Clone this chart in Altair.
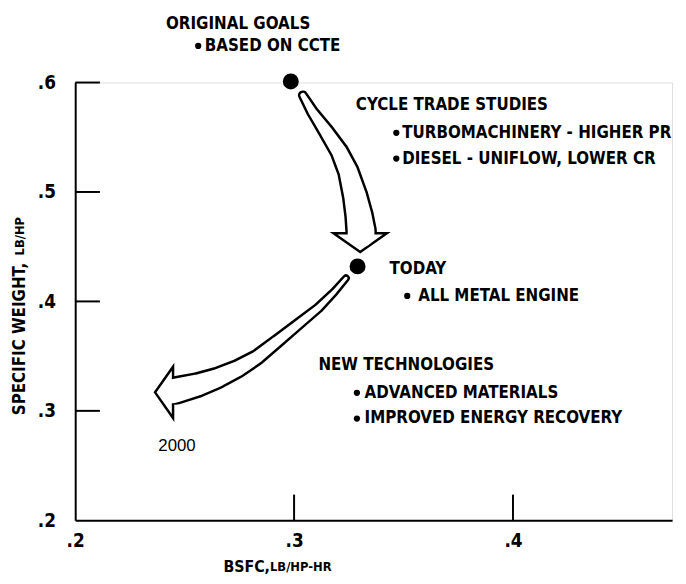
import altair as alt
import pandas as pd

F = "Liberation Sans Narrow, DejaVu Sans Condensed, sans-serif"

# ---- data ----
x_ticks = [0.2, 0.3, 0.4]
y_ticks = [0.2, 0.3, 0.4, 0.5, 0.6]

dot_names = ["ORIGINAL GOALS", "TODAY"]
dot_x = [0.2985, 0.3290]
dot_y = [0.6010, 0.4320]

# arrow 1 (goals -> today), centreline and outer width
a1_x = [0.3040, 0.3085, 0.3148, 0.3207, 0.3248, 0.3279, 0.3297, 0.3306]
a1_y = [0.5883, 0.5729, 0.5549, 0.5368, 0.5187, 0.4962, 0.4781, 0.4646]
a1_w = [10, 13, 17, 20, 23, 27, 30, 32]
a1_base = (0.3306, 0.4618, 32)
a1_head = (0.3302, 0.4537)

# arrow 2 (today -> 2000)
a2_x = [0.3237, 0.3183, 0.3111, 0.3011, 0.2921, 0.2831, 0.2740, 0.2650, 0.2560, 0.2460]
a2_y = [0.4212, 0.4086, 0.3941, 0.3779, 0.3634, 0.3490, 0.3382, 0.3300, 0.3237, 0.3187]
a2_w = [8, 9, 11, 13, 15, 17, 20, 23, 26, 29]
a2_base = (0.2447, 0.3178, 29)
a2_head = (0.2406, 0.3169)

head_texts = ["ORIGINAL GOALS", "CYCLE TRADE STUDIES", "TODAY", "NEW TECHNOLOGIES"]
head_x = [0.2415, 0.3282, 0.3436, 0.3111]
head_y = [0.6533, 0.5797, 0.4293, 0.3418]

bullet_texts = ["BASED ON CCTE", "TURBOMACHINERY - HIGHER PR", "DIESEL - UNIFLOW, LOWER CR",
                "ALL METAL ENGINE", "ADVANCED MATERIALS", "IMPROVED ENERGY RECOVERY"]
bullet_x = [0.2562, 0.3467, 0.3467, 0.3517, 0.3287, 0.3287]
bullet_tx = [0.2592, 0.3494, 0.3494, 0.3567, 0.3322, 0.3322]
bullet_y = [0.6334, 0.5540, 0.5305, 0.4050, 0.3165, 0.2930]

year_text = "2000"
year_x, year_y = 0.2380, 0.2680

xt_parts = ["BSFC,", "LB/HP-HR"]
xt_x = [0.2677, 0.2890]
xt_y = [0.1575, 0.1575]
yt_parts = ["SPECIFIC WEIGHT,", "LB/HP"]
yt_x = [0.1747, 0.1747]
yt_y = [0.2960, 0.4420]

# ---- tables ----
rows_outer, rows_inner = [], []
for aid, xs, ys, ws, base in [("a1", a1_x, a1_y, a1_w, a1_base), ("a2", a2_x, a2_y, a2_w, a2_base)]:
    for i, (x, y, w) in enumerate(zip(xs, ys, ws)):
        rows_outer.append(dict(arrow=aid, seq=i, x=x, y=y, w=w))
        rows_inner.append(dict(arrow=aid, seq=i, x=x, y=y, w=w))
    rows_inner.append(dict(arrow=aid, seq=len(xs), x=base[0], y=base[1], w=base[2]))
outer_df = pd.DataFrame(rows_outer)
inner_df = pd.DataFrame(rows_inner)

W, H = 604, 443
xscale = alt.Scale(domain=[0.2, 0.2 + W / 2215], nice=False, zero=False)
yscale = alt.Scale(domain=[0.2, 0.6], nice=False, zero=False)

xaxis = alt.Axis(values=x_ticks, labelExpr="'.' + round(datum.value*10)", ticks=False,
                 labelPadding=12, domainColor="black", domainWidth=2, labelFont=F,
                 labelFontSize=19, labelFontWeight="bold", labelColor="black", grid=False,
                 title=None, labelFlush=False)
yaxis = alt.Axis(values=y_ticks, labelExpr="'.' + round(datum.value*10)", ticks=False,
                 labelPadding=20, domainColor="black", domainWidth=2, labelFont=F,
                 labelFontSize=19, labelFontWeight="bold", labelColor="black", grid=False,
                 title=None)

X = alt.X("x:Q", scale=xscale, axis=xaxis)
Y = alt.Y("y:Q", scale=yscale, axis=yaxis)

ytick_rules = alt.Chart(pd.DataFrame({"y": y_ticks[1:]})).mark_rule(
    color="black", strokeWidth=2).encode(y=Y, x=alt.value(0), x2=alt.value(25))
xtick_rules = alt.Chart(pd.DataFrame({"x": x_ticks[1:]})).mark_rule(
    color="black", strokeWidth=2).encode(x=X, y=alt.value(H - 26), y2=alt.value(H))

outer = alt.Chart(outer_df).mark_trail(color="black").encode(
    x=X, y=Y, size=alt.Size("w:Q", scale=None, legend=None),
    detail="arrow:N", order=alt.Order("seq:Q"))

head1 = alt.Chart(pd.DataFrame({"x": [a1_head[0]], "y": [a1_head[1]]})).mark_point(
    shape="M -1 -0.35 L 1 -0.35 L 0 0.35 Z", size=54 * 54, filled=True,
    fill="white", stroke="black", strokeWidth=2.5, opacity=1).encode(x=X, y=Y)
head2 = alt.Chart(pd.DataFrame({"x": [a2_head[0]], "y": [a2_head[1]]})).mark_point(
    shape="M 0.35 -1 L 0.35 1 L -0.35 0 Z", size=52 * 52, filled=True,
    fill="white", stroke="black", strokeWidth=2.5, opacity=1).encode(x=X, y=Y)

inner = alt.Chart(inner_df).transform_calculate(wi="datum.w - 5").mark_trail(color="white").encode(
    x=X, y=Y, size=alt.Size("wi:Q", scale=None, legend=None),
    detail="arrow:N", order=alt.Order("seq:Q"))

dots = alt.Chart(pd.DataFrame({"name": dot_names, "x": dot_x, "y": dot_y})).mark_circle(
    color="black", size=260, opacity=1).encode(x=X, y=Y)

bul = alt.Chart(pd.DataFrame({"x": bullet_x, "y": bullet_y})).mark_circle(
    color="black", size=40, opacity=1).encode(x=X, y=Y)

txt_style = dict(align="left", baseline="middle", font=F, fontSize=17, fontWeight="bold", color="black")
heads = alt.Chart(pd.DataFrame({"t": head_texts, "x": head_x, "y": head_y})).mark_text(
    **txt_style).encode(x=X, y=Y, text="t:N")
btxt = alt.Chart(pd.DataFrame({"t": bullet_texts, "x": bullet_tx, "y": bullet_y})).mark_text(
    **txt_style).encode(x=X, y=Y, text="t:N")
year = alt.Chart(pd.DataFrame({"t": [year_text], "x": [year_x], "y": [year_y]})).mark_text(
    align="left", baseline="middle", font="Liberation Sans, Arial, sans-serif", fontSize=17,
    color="black").encode(x=X, y=Y, text="t:N")

xt = alt.Chart(pd.DataFrame({"t": xt_parts, "x": xt_x, "y": xt_y, "s": [16, 13]})).mark_text(
    align="left", baseline="middle", font=F, fontWeight="bold", color="black").encode(
    x=X, y=Y, text="t:N", size=alt.Size("s:Q", scale=None, legend=None))
yt = alt.Chart(pd.DataFrame({"t": yt_parts, "x": yt_x, "y": yt_y, "s": [17, 13]})).mark_text(
    align="left", baseline="middle", font=F, fontWeight="bold", color="black", angle=270).encode(
    x=X, y=Y, text="t:N", size=alt.Size("s:Q", scale=None, legend=None))

chart = alt.layer(
    ytick_rules, xtick_rules, outer, head1, head2, inner, dots, bul, heads, btxt, year, xt, yt
).properties(
    width=W, height=H,
    autosize=alt.AutoSizeParams(type="none"),
    padding={"left": 68, "top": 72, "right": 6, "bottom": 58},
).configure_view(stroke=None).configure(background="white")

chart.save("out.html", embed_options={"renderer": "svg", "actions": False})
